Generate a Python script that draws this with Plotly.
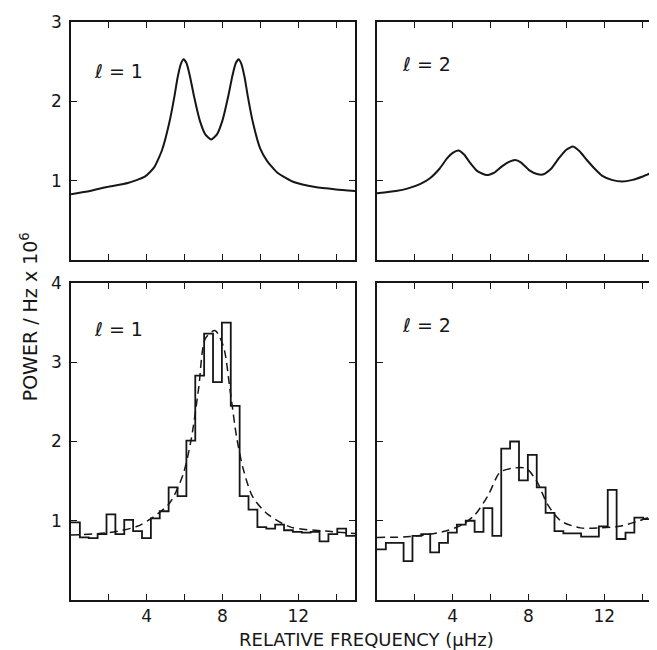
import numpy as np
import plotly.graph_objects as go
from plotly.subplots import make_subplots

# --- top row: model spectra ---
model_l1_freq = [0, 1.0, 1.9, 3.0, 3.9, 4.4, 4.8, 5.19, 5.46, 5.63, 5.8, 5.95, 6.1, 6.27,
                 6.5, 6.8, 7.1, 7.4, 7.7, 8.0, 8.3, 8.53, 8.7, 8.85, 9.0, 9.17, 9.34,
                 9.61, 10.0, 10.35, 10.9, 11.8, 12.9, 14.0, 15]
model_l1_power = [0.83, 0.87, 0.92, 0.97, 1.05, 1.17, 1.38, 1.73, 2.06, 2.3, 2.47, 2.53, 2.48, 2.33,
                  2.06, 1.76, 1.58, 1.52, 1.58, 1.76, 2.06, 2.33, 2.48, 2.53, 2.47, 2.3, 2.06,
                  1.73, 1.4, 1.25, 1.1, 0.98, 0.92, 0.89, 0.87]

model_l2_freq = [0, 1.0, 1.6, 2.3, 2.8, 3.3, 3.7, 4.0, 4.3, 4.6, 4.9, 5.3, 5.8, 6.2, 6.6,
                 7.0, 7.3, 7.6, 8.05, 8.5, 8.8, 9.2, 9.6, 10.0, 10.35, 10.7, 11.05, 11.5,
                 11.9, 12.4, 12.95, 13.5, 14.0, 14.5, 15]
model_l2_power = [0.84, 0.87, 0.9, 0.96, 1.03, 1.15, 1.28, 1.35, 1.38, 1.33, 1.23, 1.12, 1.07,
                  1.1, 1.18, 1.24, 1.26, 1.23, 1.13, 1.08, 1.08, 1.15, 1.28, 1.39, 1.43, 1.37,
                  1.27, 1.15, 1.06, 1.01, 0.99, 1.01, 1.05, 1.1, 1.15]

# --- bottom row: observed power in 32 frequency bins ---
obs_l1_power = [0.98, 0.79, 0.78, 0.83, 1.08, 0.83, 1.01, 0.87, 0.78, 1.03, 1.12, 1.42,
                1.31, 2.01, 2.83, 3.36, 2.75, 3.5, 2.45, 1.31, 1.14, 0.92, 0.9, 0.95,
                0.88, 0.86, 0.85, 0.86, 0.74, 0.83, 0.9, 0.81]
obs_l2_power = [0.64, 0.72, 0.72, 0.49, 0.81, 0.83, 0.6, 0.72, 0.85, 0.95, 1.0, 0.86,
                1.16, 0.81, 1.91, 2.0, 1.51, 1.83, 1.42, 1.1, 0.87, 0.84, 0.84, 0.8,
                0.8, 0.93, 1.39, 0.77, 0.85, 1.04, 1.02, 1.19]

# dashed fitted profiles
fit_l1_freq = [0, 2.0, 3.5, 4.3, 5.2, 5.9, 6.35, 6.74, 7.1, 7.6, 8.05, 8.4, 8.75, 9.1,
               9.6, 10.4, 11.6, 13.4, 15]
fit_l1_power = [0.82, 0.85, 0.93, 1.04, 1.22, 1.57, 2.03, 2.67, 3.3, 3.4, 3.2, 2.65, 2.05,
                1.65, 1.3, 1.08, 0.92, 0.87, 0.84]

fit_l2_freq = [0, 1.73, 3.46, 4.5, 5.19, 5.89, 6.49, 7.1, 7.88, 8.48, 9.0, 9.7, 10.74,
               11.78, 12.81, 13.85, 15]
fit_l2_power = [0.79, 0.8, 0.86, 0.95, 1.08, 1.33, 1.61, 1.66, 1.66, 1.48, 1.21, 1.0, 0.91,
                0.91, 0.93, 1.0, 1.1]

BIN_WIDTH = 15 / 32
bin_edges = np.arange(len(obs_l1_power) + 1) * BIN_WIDTH

INK = "#161616"
FONT = "DejaVu Sans"

fig = make_subplots(rows=2, cols=2, row_heights=[238, 317],
                    horizontal_spacing=22 / 592, vertical_spacing=23 / 578)

# model curves
fig.add_trace(go.Scatter(x=model_l1_freq, y=model_l1_power, mode="lines",
                         line=dict(color=INK, width=2, shape="spline", smoothing=0.5)),
              row=1, col=1)
fig.add_trace(go.Scatter(x=model_l2_freq, y=model_l2_power, mode="lines",
                         line=dict(color=INK, width=2, shape="spline", smoothing=0.5)),
              row=1, col=2)

# observed histograms
for col, obs in ((1, obs_l1_power), (2, obs_l2_power)):
    fig.add_trace(go.Scatter(x=bin_edges, y=list(obs) + [obs[-1]], mode="lines",
                             line=dict(color=INK, width=1.8, shape="hv")),
                  row=2, col=col)

# fits
fig.add_trace(go.Scatter(x=fit_l1_freq, y=fit_l1_power, mode="lines",
                         line=dict(color=INK, width=1.5, dash="8px,5px",
                                   shape="spline", smoothing=0.8)),
              row=2, col=1)
fig.add_trace(go.Scatter(x=fit_l2_freq, y=fit_l2_power, mode="lines",
                         line=dict(color=INK, width=1.5, dash="8px,5px",
                                   shape="spline", smoothing=0.8)),
              row=2, col=2)

axis_style = dict(showline=True, mirror="ticks", linecolor=INK, linewidth=1.5,
                  ticks="inside", ticklen=6, tickwidth=1.2, tickcolor=INK,
                  showgrid=False, zeroline=False,
                  tickfont=dict(family=FONT, size=17, color=INK))

x_ticks = [2, 4, 6, 8, 10, 12, 14]
x_text = ["", "4", "", "8", "", "12", ""]
for r in (1, 2):
    for c in (1, 2):
        fig.update_xaxes(range=[0, 15], tickvals=x_ticks, ticktext=x_text,
                         showticklabels=(r == 2), row=r, col=c, **axis_style)

fig.update_yaxes(range=[0, 3], tickvals=[1, 2, 3], ticklabelstandoff=4,
                 row=1, col=1, **axis_style)
fig.update_yaxes(range=[0, 3], tickvals=[1, 2], showticklabels=False, row=1, col=2, **axis_style)
fig.update_yaxes(range=[0, 4], tickvals=[1, 2, 3, 4], ticklabelstandoff=4,
                 row=2, col=1, **axis_style)
fig.update_yaxes(range=[0, 4], tickvals=[1, 2, 3], showticklabels=False, row=2, col=2, **axis_style)

# panel labels
labels = [("x", "y", 2.5, 2.38, "ℓ = 1"), ("x2", "y2", 2.6, 2.47, "ℓ = 2"),
          ("x3", "y3", 2.5, 3.42, "ℓ = 1"), ("x4", "y4", 2.6, 3.47, "ℓ = 2")]
for xr, yr, xv, yv, txt in labels:
    fig.add_annotation(xref=xr, yref=yr, x=xv, y=yv, text=txt, showarrow=False,
                       font=dict(family=FONT, size=19, color=INK))

fig.add_annotation(xref="paper", yref="paper", x=0.5, y=-0.069,
                   xanchor="center", yanchor="middle",
                   text="RELATIVE FREQUENCY (µHz)", showarrow=False,
                   font=dict(family=FONT, size=18, color=INK))
fig.add_annotation(xref="paper", yref="paper", x=-0.072, y=0.49, textangle=-90,
                   xanchor="center", yanchor="middle",
                   text="POWER / Hz x 10<sup>6</sup>", showarrow=False,
                   font=dict(family=FONT, size=19, color=INK))

fig.update_layout(width=657, height=650, showlegend=False,
                  margin=dict(l=63, r=2, t=14, b=58),
                  paper_bgcolor="white", plot_bgcolor="white")

fig.write_html("out.html")
